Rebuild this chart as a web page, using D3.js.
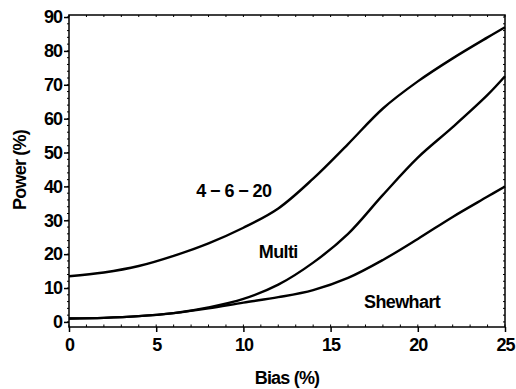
<!DOCTYPE html>
<html><head><meta charset="utf-8">
<script src="https://cdn.jsdelivr.net/npm/d3@7"></script>
<style>
html,body{margin:0;padding:0;background:#fff;}
svg text{font-family:"Liberation Sans",Arial,Helvetica,sans-serif;font-weight:bold;fill:#000;}
</style></head>
<body>
<script>
const bias = [0, 2, 4, 6, 8, 10, 12, 14, 16, 18, 20, 22, 24, 25];
const power4620 = [13.5, 14.6, 16.5, 19.5, 23.2, 27.8, 33.5, 42.3, 52.5, 63, 71, 77.8, 84, 87];
const powerMulti = [1, 1.2, 1.7, 2.6, 4.3, 6.8, 11, 17.5, 26, 37.5, 48.5, 57.5, 67, 72.5];
const powerShewhart = [1, 1.2, 1.7, 2.6, 4, 5.7, 7.3, 9.4, 13, 18.3, 24.5, 31, 37, 40];
const seriesNames = ["4 \u2212 6 \u2212 20", "Multi", "Shewhart"];
const xTicks = [0, 5, 10, 15, 20, 25];
const yTicks = [0, 10, 20, 30, 40, 50, 60, 70, 80, 90];

const W = 516, H = 389;
const L = 69, R = 505, T = 15, B = 327;
const svg = d3.select("body").append("svg").attr("width", W).attr("height", H);

const x = d3.scaleLinear().domain([0, 25]).range([L, R]);
const y = d3.scaleLinear().domain([-1.5, 90.6]).range([B, T]);

// frame
svg.append("rect").attr("x", L).attr("y", T).attr("width", R - L).attr("height", B - T)
  .attr("fill", "none").attr("stroke", "#000").attr("stroke-width", 1.5);

// minor ticks
const gMinor = svg.append("g").attr("stroke", "#000").attr("stroke-width", 1);
d3.range(0, 25.01, 1).forEach(v => {
  gMinor.append("line").attr("x1", x(v)).attr("x2", x(v)).attr("y1", B).attr("y2", B - 2.5);
  gMinor.append("line").attr("x1", x(v)).attr("x2", x(v)).attr("y1", T).attr("y2", T + 2);
});
d3.range(0, 90.01, 2).forEach(v => {
  gMinor.append("line").attr("x1", L).attr("x2", L - 2).attr("y1", y(v)).attr("y2", y(v));
  gMinor.append("line").attr("x1", R).attr("x2", R - 2).attr("y1", y(v)).attr("y2", y(v));
});

const styleText = sel => sel.attr("font-size", 18).attr("font-family", "Liberation Sans, Arial, sans-serif")
  .attr("font-weight", "bold").attr("letter-spacing", -1);

// axes
const xAxis = d3.axisBottom(x).tickValues(xTicks).tickSize(5).tickPadding(6).tickFormat(d3.format("d"));
const gx = svg.append("g").attr("transform", `translate(0,${B})`).call(xAxis);
gx.select(".domain").remove();
gx.selectAll("line").attr("stroke-width", 1.5);
gx.selectAll("text").call(styleText);

const yAxis = d3.axisLeft(y).tickValues(yTicks).tickSize(5).tickPadding(2).tickFormat(d3.format("d"));
const gy = svg.append("g").attr("transform", `translate(${L},0)`).call(yAxis);
gy.select(".domain").remove();
gy.selectAll("line").attr("stroke-width", 1.5);
gy.selectAll("text").call(styleText);

// curves
const line = d3.line().x((d, i) => x(bias[i])).y(d => y(d)).curve(d3.curveCatmullRom.alpha(0.5));
[power4620, powerMulti, powerShewhart].forEach(s => {
  svg.append("path").datum(s).attr("d", line).attr("fill", "none")
    .attr("stroke", "#000").attr("stroke-width", 2.4).attr("stroke-linejoin", "round");
});

// labels (centers)
const labelPos = [[9.45, 38.5], [12.0, 20.5], [19.1, 5.9]];
seriesNames.forEach((n, i) => {
  svg.append("text").attr("x", x(labelPos[i][0])).attr("y", y(labelPos[i][1]))
    .attr("font-size", 18).attr("letter-spacing", -0.6).attr("text-anchor", "middle")
    .attr("dominant-baseline", "central").text(n);
});

// axis titles
svg.append("text").attr("x", 287).attr("y", 378).attr("text-anchor", "middle")
  .attr("font-size", 18).attr("letter-spacing", -0.8).attr("dominant-baseline", "central").text("Bias (%)");
svg.append("text").attr("transform", "translate(20,170) rotate(-90)").attr("text-anchor", "middle")
  .attr("font-size", 18).attr("letter-spacing", -0.8).attr("dominant-baseline", "central").text("Power (%)");
</script>
</body></html>
